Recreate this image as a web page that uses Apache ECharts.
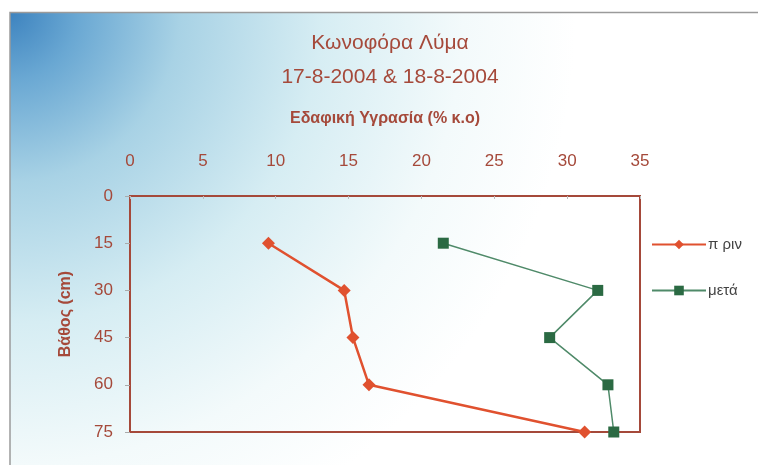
<!DOCTYPE html>
<html>
<head>
<meta charset="utf-8">
<script src="https://cdn.jsdelivr.net/npm/echarts@6/dist/echarts.min.js"></script>
<style>
html,body{margin:0;padding:0;background:#fff;}
#chart{width:758px;height:465px;}
</style>
</head>
<body>
<div id="chart"></div>
<script>
// δεδομένα
var depths = [15, 30, 45, 60, 75];
var prinValues = [9.5, 14.7, 15.3, 16.4, 31.2];
var metaValues = [21.5, 32.1, 28.8, 32.8, 33.2];
var xTicks = [0, 5, 10, 15, 20, 25, 30, 35];
var yTicks = [0, 15, 30, 45, 60, 75];
var seriesNames = ['π ριν', 'μετά'];

var red = '#a5493a';
var font = 'Liberation Sans, Arial, sans-serif';

function pairs(vals){
	var out = [];
	for(var i = 0; i < vals.length; i++){
		out.push([vals[i], depths[i]]);
	}
	return out;
}

var myChart = echarts.init(document.getElementById('chart'));
var option = {
	backgroundColor: '#ffffff',
	graphic: {
		elements: [
			{
				type: 'rect',
				z: -10,
				shape: {x: 10, y: 12, width: 748, height: 453},
				style: {
					fill: {
						type: 'radial', x: 0, y: 0, r: 1.25,
						colorStops: [
							{offset: 0, color: '#3d83bf'},
							{offset: 0.12, color: '#6aa8d3'},
							{offset: 0.3, color: '#a8d2e5'},
							{offset: 0.55, color: '#d6edf3'},
							{offset: 0.8, color: '#f3fafb'},
							{offset: 1, color: '#ffffff'}
						]
					}
				},
				silent: true
			},
			{
				type: 'polyline',
				z: -5,
				shape: {points: [[10, 465], [10, 12.5], [758, 12.5]]},
				style: {stroke: '#9a9a9a', lineWidth: 1.5, fill: null},
				silent: true
			}
		]
	},
	title: {
		text: 'Κωνοφόρα Λύμα\n17-8-2004 & 18-8-2004',
		left: 385,
		textAlign: 'center',
		top: 21,
		textStyle: {
			color: red,
			fontFamily: font,
			fontSize: 21,
			fontWeight: 'normal',
			lineHeight: 34
		}
	},
	legend: {
		orient: 'vertical',
		left: 646,
		top: 232,
		itemWidth: 54,
		itemHeight: 12,
		itemGap: 31,
		textStyle: {color: '#444', fontFamily: font, fontSize: 15, padding: [0, 0, 0, -3]},
		data: seriesNames
	},
	grid: {
		left: 130,
		right: 118,
		top: 196,
		bottom: 33,
		show: true,
		borderColor: red,
		borderWidth: 2,
		backgroundColor: 'transparent'
	},
	xAxis: {
		type: 'value',
		position: 'top',
		min: 0,
		max: 35,
		interval: 5,
		name: 'Εδαφική Υγρασία (% κ.ο)',
		nameLocation: 'middle',
		nameGap: 69,
		nameTextStyle: {color: red, fontFamily: font, fontSize: 16, fontWeight: 'bold'},
		axisLine: {show: true, lineStyle: {color: red, width: 2}},
		axisTick: {show: true, inside: true, length: 3, lineStyle: {color: '#bbb'}},
		axisLabel: {color: red, fontFamily: font, fontSize: 17, margin: 26},
		splitLine: {show: false}
	},
	yAxis: {
		type: 'value',
		inverse: true,
		min: 0,
		max: 75,
		interval: 15,
		name: 'Βάθος (cm)',
		nameLocation: 'middle',
		nameGap: 56,
		nameRotate: 90,
		nameTextStyle: {color: red, fontFamily: font, fontSize: 16, fontWeight: 'bold'},
		axisLine: {show: true, lineStyle: {color: red, width: 2}},
		axisTick: {show: true, length: 5, lineStyle: {color: '#aaa'}},
		axisLabel: {color: red, fontFamily: font, fontSize: 17, margin: 17},
		splitLine: {show: false}
	},
	series: [
		{
			name: seriesNames[0],
			type: 'line',
			data: pairs(prinValues),
			symbol: 'diamond',
			symbolSize: 13,
			color: '#e0512f',
			lineStyle: {width: 2.5, color: '#e0512f'},
			itemStyle: {color: '#e0512f'}
		},
		{
			name: seriesNames[1],
			type: 'line',
			data: pairs(metaValues),
			symbol: 'rect',
			symbolSize: 11,
			color: '#2b6a43',
			lineStyle: {width: 1.5, color: '#4f8a69'},
			itemStyle: {color: '#2b6a43'}
		}
	],
	animation: false
};
myChart.setOption(option);
</script>
</body>
</html>
